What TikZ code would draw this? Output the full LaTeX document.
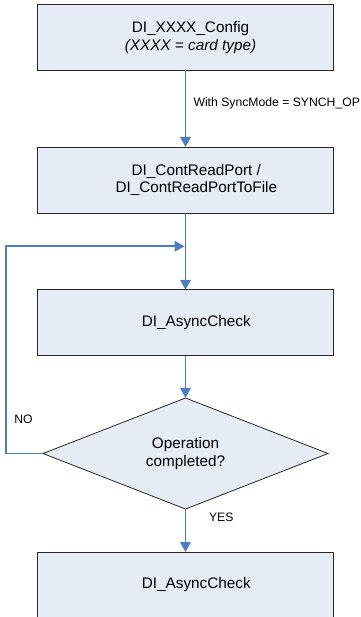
\documentclass[tikz,border=0pt]{standalone}
\usepackage{fontspec}
\setmainfont{Liberation Sans}
\usetikzlibrary{shapes.geometric,arrows.meta}
\definecolor{boxfill}{RGB}{230,236,246}
\definecolor{flowblue}{RGB}{74,126,193}
\tikzset{
  stepbox/.style={draw=black!85, line width=0.8pt, fill=boxfill, rectangle,
    minimum width=295.6pt, minimum height=66pt, inner sep=0pt, outer sep=0pt},
  boxtext/.style={align=center, inner sep=0pt,
    font=\fontsize{15.3}{17.7}\selectfont},
  decision/.style={draw=black!85, line width=0.8pt, fill=boxfill, diamond,
    minimum width=285pt, minimum height=65pt, inner sep=0pt, outer sep=0pt,
    align=center, font=\fontsize{15.3}{17.7}\selectfont},
  flow/.style={draw=flowblue, line width=1.8pt,
    -{Triangle[length=10pt,width=10.5pt]}},
  flowlabel/.style={font=\fontsize{12.2}{14}\selectfont, inner sep=0pt}
}
\begin{document}
\begin{tikzpicture}[x=1pt,y=-1pt]
  \useasboundingbox (0,0) rectangle (360,617);
  \clip (0,0) rectangle (360,617);

  % process boxes; their captions sit a little right of the box centre
  \node[stepbox, label={[boxtext, xshift=5pt]center:%
      DI\_XXXX\_Config\\\textit{(XXXX = card type)}}] (config) at (185.5,37.5) {};
  \node[stepbox, label={[boxtext, xshift=10.8pt]center:%
      DI\_ContReadPort /\\DI\_ContReadPortToFile}] (cont) at (185.5,180) {};
  \node[stepbox, label={[boxtext, xshift=10.8pt]center:%
      DI\_AsyncCheck}] (check) at (185.5,322.8) {};
  \node[decision] (done) at (185.5,453.5) {Operation\\completed?};
  \node[stepbox, label={[boxtext, xshift=10.8pt]center:%
      DI\_AsyncCheck}] (final) at (185.5,585) {};

  \coordinate (loopcorner) at (5.7,246.3);
  \coordinate (merge) at (185.5,246.3);

  \draw[flow] (config.south) -- (cont.north);
  \draw[flow] (cont.south) -- (check.north);
  \draw[flow] (check.south) -- (done.north);
  \draw[flow] (done.south) -- (final.north);
  \draw[flow] (done.west) -| (loopcorner) -- ([xshift=-0.9pt]merge);

  \node[flowlabel, anchor=west] (sync) at (193.3,103.3)
    {With SyncMode = SYNCH\_OP};
  \node[flowlabel] (no) at (23.5,419) {NO};
  \node[flowlabel] (yes) at (221.3,517.7) {YES};
\end{tikzpicture}
\end{document}
